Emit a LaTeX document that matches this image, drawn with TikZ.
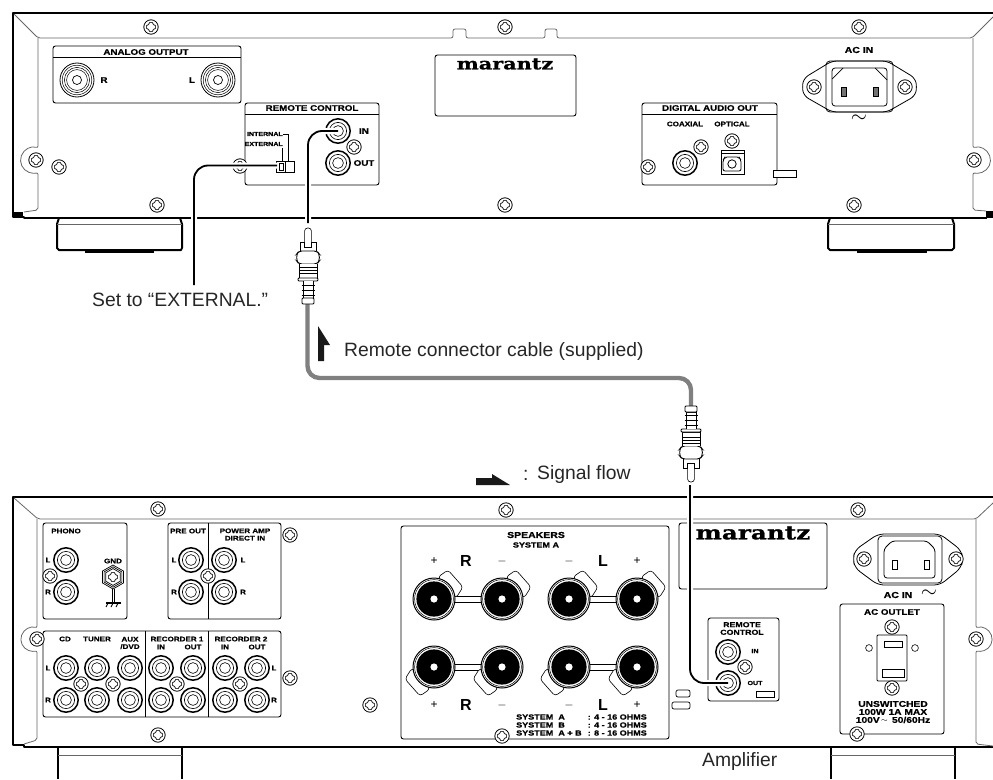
\documentclass[tikz,border=0pt]{standalone}
\usepackage{fontspec}
\setmainfont{Liberation Sans}
\newfontfamily\panelfont[FakeStretch=1.22, BoldFeatures={FakeBold=0.8}]{Liberation Sans}
\newfontfamily\brandfont[FakeStretch=1.3, BoldFeatures={FakeBold=1.2}]{DejaVu Serif}
\usetikzlibrary{positioning, calc}

\begin{document}
\begin{tikzpicture}[x=1pt, y=-1pt, >=stealth, every node/.style={align=center, inner sep=0pt},
    caption/.style={font=\fontsize{19.3}{22}\selectfont, text=black!85},
    titletext/.style={font=\panelfont\fontsize{8}{8.6}\selectfont\bfseries},
    paneltext/.style={font=\panelfont\fontsize{6.6}{7.4}\selectfont\bfseries},
    tinytext/.style={font=\panelfont\fontsize{5.8}{7.6}\selectfont\bfseries},
    systext/.style={font=\panelfont\fontsize{7.4}{8}\selectfont\bfseries},
    bigtext/.style={font=\fontsize{16}{16}\selectfont\bfseries},
    signtext/.style={font=\fontsize{12}{12}\selectfont},
    brandtext/.style={font=\brandfont\bfseries},
    panel/.style={draw, line width=0.9pt, rounded corners=2.5pt},
    caseline/.style={draw, line width=2pt, line join=round},
    innerline/.style={draw=black!60, line width=0.8pt, rounded corners=2pt},
    thinpart/.style={draw, line width=0.6pt, fill=white},
    lead/.style={draw=black, line width=1.8pt, rounded corners=14pt, preaction={draw=white, line width=6pt}},
    greycable/.style={draw=black!50, line width=4.4pt, rounded corners=12pt},
    flowmark/.style={fill=black!90, draw=none},
    screwcross/.pic={
        \draw[line width=0.6pt, rounded corners=1pt] (-2,-4.6) -- (2,-4.6) -- (2,-2) -- (4.6,-2) -- (4.6,2) -- (2,2)
            -- (2,4.6) -- (-2,4.6) -- (-2,2) -- (-4.6,2) -- (-4.6,-2) -- (-2,-2) -- cycle;
    },
    screw/.pic={
        \draw[line width=0.8pt, fill=white] (0,0) circle (7.2);
        \pic {screwcross};
    },
    jack/.pic={
        \draw[line width=1.5pt, fill=white] (0,0) circle (12.2);
        \draw[line width=0.6pt] (0,0) circle (8.6);
        \draw[line width=0.6pt] (0,0) circle (5.4);
    },
    bigjack/.pic={
        \draw[line width=0.8pt, fill=white] (0,0) circle (17);
        \foreach \r in {14.8,12.6,10.4} \draw[line width=0.5pt] (0,0) circle (\r);
        \draw[line width=0.7pt] (0,0) circle (4.5);
    },
    terminal/.pic={
        \draw[thinpart, rounded corners=3pt] (4,-22) -- (14,-29) -- (29,-12) -- (22,-1) -- cycle;
        \draw[line width=1pt, fill=white] (0,0) circle (21);
        \draw[line width=0.5pt] (0,0) circle (19.4);
        \fill[black] (0,0) circle (17.6);
        \fill[white] (0,0) circle (3.6);
    },
    rcaplug/.pic={
        \draw[thinpart, rounded corners=3pt] (-3.4,24) -- (-3.4,0) -- (3.4,0) -- (3.4,24);
        \draw[thinpart] (-8,23) -- (-8,14) -- (-3.4,14) -- (-3.4,19) -- (3.4,19) -- (3.4,14) -- (8,14) -- (8,23);
        \draw[thinpart, line width=0.9pt, rounded corners=3pt] (-9,23) -- (-11.3,26) -- (-11.3,33) -- (-9,36) -- (9,36) -- (11.3,33) -- (11.3,26) -- (9,23) -- cycle;
        \draw[thinpart, line width=0.9pt] (-9,36) -- (-9,50) -- (9,50) -- (9,36);
        \foreach \s in {39,42,45} \draw[line width=0.7pt] (-9,\s) -- (9,\s);
        \draw[thinpart, line width=0.9pt, rounded corners=1pt] (-10,50) rectangle (10,53);
        \draw[thinpart, line width=0.9pt] (-5,53) -- (-5,70) -- (5,70) -- (5,53);
        \foreach \s in {57,62,67} \draw[line width=1pt] (-6.5,\s) -- (6.5,\s);
        \draw[thinpart, line width=0.9pt, rounded corners=1pt] (-6,70) rectangle (6,76);
    }]
    \useasboundingbox (0,0) rectangle (993,779);

    \path[caseline] (993,13) -- (13,13) -- (13,217) -- (24,217) -- (24,218) -- (987,218);
    \fill[black] (13,212) rectangle (23,217);
    \fill[black] (986,211) rectangle (993,218);
    \draw[innerline] (14,14) -- (38,38) -- (453,38) -- (453,29) -- (466,29) -- (466,38) -- (545,38) -- (545,29) -- (557,29) -- (557,38) -- (972,38) -- (993,17);
    \draw[innerline] (38,38) -- (38,148) arc[start angle=-70, end angle=-290, radius=13] -- (38,210) -- (24,212);
    \draw[innerline] (973,38) -- (973,148) arc[start angle=250, end angle=470, radius=13] -- (973,210) -- (986,211);

    \draw[caseline] (59,218) -- (57,224) -- (57,248) -- (59,250) -- (181,250) -- (182,248) -- (182,224) -- (180,218);
    \draw[innerline] (57,224) -- (182,224);
    \draw[line width=1.6pt] (85,252) -- (154,252);
    \draw[caseline] (830,218) -- (828,224) -- (828,248) -- (830,250) -- (952,250) -- (954,248) -- (954,224) -- (952,218);
    \draw[innerline] (828,224) -- (954,224);
    \draw[line width=1.6pt] (857,252) -- (927,252);

    \draw[panel] (53,46) rectangle (241,103);
    \draw[line width=0.9pt] (53,57) -- (241,57);
    \node[titletext] (analogTitle) at (146,52) {ANALOG OUTPUT};
    \pic (analogR) at (77,80) {bigjack};
    \pic (analogL) at (218,80) {bigjack};
    \node[titletext] (analogRText) at (104,80) {R};
    \node[titletext] (analogLText) at (192,80) {L};

    \draw[panel] (435,55) rectangle (576,116);
    \node[brandtext, font=\brandfont\bfseries\fontsize{16}{16}\selectfont] (brandTop) at (505,64) {marantz};

    \draw[panel] (245,103) rectangle (379,185);
    \draw[line width=0.9pt] (245,114) -- (379,114);
    \node[titletext] (remoteTitle) at (312,108) {REMOTE CONTROL};
    \node[tinytext, anchor=east] (internalText) at (283,134) {INTERNAL};
    \node[tinytext, anchor=east] (externalText) at (283,144) {EXTERNAL};
    \draw[line width=0.7pt] (internalText.east) -| (288,161);
    \draw[line width=0.7pt] (282,148) -- (282,161);
    \draw[thinpart] (276,161) rectangle (294,172);
    \draw[line width=0.7pt] (285,161) -- (285,172);
    \draw[line width=1pt] (279,163) rectangle (283,170);
    \pic (remoteIn) at (338,131) {jack};
    \pic (remoteOut) at (338,163) {jack};
    \node[titletext] (remoteInText) at (364,131) {IN};
    \node[titletext] (remoteOutText) at (364,163) {OUT};

    \draw[panel] (642,103) rectangle (777,185);
    \draw[line width=0.9pt] (642,114) -- (777,114);
    \node[titletext] (digitalTitle) at (710,108) {DIGITAL AUDIO OUT};
    \node[paneltext] (coaxialText) at (685,124) {COAXIAL};
    \node[paneltext] (opticalText) at (732,124) {OPTICAL};
    \pic (coaxial) at (685,163) {jack};
    \draw[thinpart, line width=0.9pt] (721,150) rectangle (744,174);
    \draw[line width=0.6pt] (721,153) -- (744,153);
    \draw[line width=0.8pt, rounded corners=2pt] (725,157) -- (739,157) -- (741,160) -- (741,171) -- (723,171) -- (723,160) -- cycle;
    \draw[line width=0.8pt] (732,164) circle (4.2);
    \draw[thinpart] (773,170) rectangle (796,177);

    \node[titletext, font=\panelfont\fontsize{8.6}{9}\selectfont\bfseries] (acInTop) at (859,50) {AC IN};
    \draw[thinpart, line width=0.8pt, rounded corners=5pt] (832,61) -- (887,61) -- (915,78) -- (917,87) -- (915,96) -- (887,112) -- (832,112) -- (804,96) -- (802,87) -- (804,78) -- cycle;
    \draw[line width=0.8pt, rounded corners=4pt] (826,61) rectangle (893,112);
    \draw[line width=0.8pt, rounded corners=3pt] (832,68) rectangle (887,106);
    \draw[line width=0.7pt] (832,79) -- (843,68) (875,68) -- (887,80);
    \draw[thinpart, fill=black!55] (841,87) rectangle (846,96);
    \draw[thinpart, fill=black!55] (873,87) rectangle (878,96);
    \node[font=\fontsize{21}{21}\selectfont] (acSignTop) at (859,119) {$\sim$};

    \foreach \x/\y [count=\i] in {151/27,59/167,157/205,36/160,505/27,505/205,859/27,854/205,974/160,354/147,240/166,701/147,648/167,732/141,814/87,905/87}
        \pic (topScrew\i) at (\x,\y) {screw};

    \path[caseline] (993,497) -- (13,497) -- (13,745) -- (24,745) -- (24,747) -- (993,747);
    \draw[innerline] (14,498) -- (38,519) -- (976,519) -- (993,503);
    \draw[innerline] (37,519) -- (37,628) arc[start angle=-70, end angle=-290, radius=12] -- (37,740) -- (24,744);
    \draw[innerline] (976,519) -- (976,628) arc[start angle=250, end angle=470, radius=12] -- (976,744) -- (993,746);
    \draw[line width=1.6pt] (58,747) -- (58,779) (182,747) -- (182,779);
    \draw[innerline] (58,755) -- (182,755);
    \draw[line width=1.6pt] (831,747) -- (831,779) (955,747) -- (955,779);
    \draw[innerline] (831,755) -- (955,755);

    \draw[panel] (43,523) rectangle (127,619);
    \node[paneltext] (phonoTitle) at (66,531) {PHONO};
    \pic (phonoL) at (66,560) {jack};
    \pic (phonoR) at (66,592) {jack};
    \node[paneltext] (phonoLText) at (48,560) {L};
    \node[paneltext] (phonoRText) at (48,592) {R};
    \node[paneltext] (gndText) at (113,561) {GND};
    \foreach \r in {12,10.2,8.4}
        \draw[line width=0.7pt, fill=white] (113,577-\r) -- (113+0.87*\r,577-0.5*\r) -- (113+0.87*\r,577+0.5*\r) -- (113,577+\r) -- (113-0.87*\r,577+0.5*\r) -- (113-0.87*\r,577-0.5*\r) -- cycle;
    \pic (gndCross) at (113,577) {screwcross};
    \draw[line width=0.7pt] (112,589) -- (112,603) (114.4,589) -- (114.4,603);
    \draw[line width=1.2pt] (106,603) -- (121,603);
    \draw[line width=0.9pt] (108,603) -- (106,607) (113,603) -- (111,607) (118,603) -- (116,607);

    \draw[panel] (168,523) rectangle (281,619);
    \draw[line width=0.9pt] (208,523) -- (208,619);
    \node[paneltext] (preOutTitle) at (188,531) {PRE OUT};
    \node[paneltext] (powerTitle) at (245,534.5) {POWER AMP\\DIRECT IN};
    \foreach \x/\y [count=\i] in {191/560,191/592,224/560,224/592}
        \pic (powerJack\i) at (\x,\y) {jack};
    \node[paneltext] (preLText) at (174,560) {L};
    \node[paneltext] (preRText) at (174,592) {R};
    \node[paneltext] (powerLText) at (243,560) {L};
    \node[paneltext] (powerRText) at (243,592) {R};

    \draw[panel] (43,631) rectangle (281,717);
    \draw[line width=0.9pt] (145,631) -- (145,717) (208,631) -- (208,717);
    \node[paneltext] (cdText) at (65,639) {CD};
    \node[paneltext] (tunerText) at (97,639) {TUNER};
    \node[paneltext] (auxText) at (130,643) {AUX\\/DVD};
    \node[paneltext] (rec1Text) at (177,639) {RECORDER 1};
    \node[paneltext] (rec1In) at (161,647) {IN};
    \node[paneltext] (rec1Out) at (193,647) {OUT};
    \node[paneltext] (rec2Text) at (241,639) {RECORDER 2};
    \node[paneltext] (rec2In) at (225,647) {IN};
    \node[paneltext] (rec2Out) at (257,647) {OUT};
    \foreach \x [count=\i] in {66,97,130,161,193,225,257} {
        \pic (inputL\i) at (\x,668) {jack};
        \pic (inputR\i) at (\x,700) {jack};
    }
    \node[paneltext] (inLText) at (48,668) {L};
    \node[paneltext] (inRText) at (48,700) {R};
    \node[paneltext] (outLText) at (274,668) {L};
    \node[paneltext] (outRText) at (274,700) {R};

    \draw[panel] (401,526) rectangle (669,739);
    \node[titletext, font=\panelfont\fontsize{8.6}{9}\selectfont\bfseries] (speakersTitle) at (536,535) {SPEAKERS};
    \node[systext] (systemAText) at (536,545) {SYSTEM A};
    \foreach \xa/\xb in {434/502,569/637}
        \foreach \y in {599,667} {
            \draw[line width=0.7pt] (\xa,\y-3) -- (\xb,\y-3) (\xa,\y+3) -- (\xb,\y+3);
        }
    \foreach \x [count=\i] in {434,502,569,637} {
        \pic (termTop\i) at (\x,599) {terminal};
        \pic[rotate=180] (termBot\i) at (\x,667) {terminal};
    }
    \foreach \x/\t [count=\i] in {434/{+},502/{$-$},569/{$-$},637/{+}} {
        \node[signtext] (signTop\i) at (\x,561) {\t};
        \node[signtext] (signBot\i) at (\x,705) {\t};
    }
    \node[bigtext] (rTop) at (466,561) {R};
    \node[bigtext] (lTop) at (603,561) {L};
    \node[bigtext] (rBot) at (466,705) {R};
    \node[bigtext] (lBot) at (603,705) {L};
    \node[systext, anchor=west] (sysA) at (516,717) {SYSTEM \ A};
    \node[systext, anchor=west] (sysB) at (516,725) {SYSTEM \ B};
    \node[systext, anchor=west] (sysAB) at (516,733) {SYSTEM \ A + B};
    \node[systext, anchor=east] (ohmA) at (647,717) {: 4 - 16 OHMS};
    \node[systext, anchor=east] (ohmB) at (647,725) {: 4 - 16 OHMS};
    \node[systext, anchor=east] (ohmAB) at (647,733) {: 8 - 16 OHMS};
    \draw[line width=0.7pt, rounded corners=2pt] (690,690) -- (676,690) -- (676,697) -- (690,697) -- cycle;
    \draw[line width=0.7pt, rounded corners=2pt] (690,702) -- (672,702) -- (672,709) -- (690,709) -- cycle;

    \draw[panel] (679,523) rectangle (827,589);
    \node[brandtext, font=\brandfont\bfseries\fontsize{19}{19}\selectfont] (brandBot) at (753,533) {marantz};

    \draw[panel] (708,618) rectangle (779,701);
    \node[titletext, font=\panelfont\fontsize{7.2}{7.6}\selectfont\bfseries] (remote2Title) at (742,628.5) {REMOTE\\CONTROL};
    \pic (amp2In) at (728,652) {jack};
    \pic (ampOut) at (728,683) {jack};
    \node[tinytext] (amp2InText) at (755,651) {IN};
    \node[tinytext] (ampOutText) at (755,683) {OUT};
    \draw[thinpart] (756,691) rectangle (774,697);

    \draw[thinpart, line width=0.8pt, rounded corners=6pt] (878,534) -- (940,534) -- (961,550) -- (963,559) -- (961,568) -- (940,585) -- (878,585) -- (855,568) -- (853,559) -- (855,550) -- cycle;
    \draw[line width=0.8pt, rounded corners=4pt] (878,536) rectangle (942,583);
    \draw[line width=0.8pt, rounded corners=3pt] (892,541) -- (927,541) -- (935,549) -- (935,578) -- (884,578) -- (884,549) -- cycle;
    \draw[thinpart, line width=0.9pt] (892,560) rectangle (897,569);
    \draw[thinpart, line width=0.9pt] (924,560) rectangle (929,569);
    \node[titletext, font=\panelfont\fontsize{8.6}{9}\selectfont\bfseries] (acInBot) at (898,595) {AC IN};
    \node[font=\fontsize{21}{21}\selectfont] (acSignBot) at (929,594) {$\sim$};

    \draw[panel] (840,604) rectangle (944,734);
    \node[titletext, font=\panelfont\fontsize{8}{9}\selectfont\bfseries] (acOutletTitle) at (892,612) {AC OUTLET};
    \draw[thinpart, line width=0.9pt, rounded corners=1pt] (877,635) rectangle (907,681);
    \draw[thinpart, line width=1pt] (884,641) rectangle (902,647);
    \draw[thinpart, line width=1pt] (882,669) rectangle (904,677);
    \draw[line width=0.6pt] (869,648) circle (3.4) (915,648) circle (3.4);
    \node[titletext, font=\panelfont\fontsize{8.4}{8}\selectfont\bfseries] (unswitchedText) at (893,712) {UNSWITCHED\\100W 1A MAX\\100V$\,\sim\,$ 50/60Hz};

    \foreach \x/\y [count=\i] in {158/509,50/576,208/576,290/535,158/735,81/684,113/684,177/684,240/684,290/678,370/705,506/510,502/736,745/667,857/734,858/510,976/639,37/639,864/559,956/559,892/627,892/688}
        \pic (ampScrew\i) at (\x,\y) {screw};

    \coordinate (remoteInPin) at (338,131);
    \coordinate (switchPoint) at (277,165.5);
    \coordinate (captionTop) at (194,285);
    \coordinate (plugTopPin) at (308,223);
    \coordinate (plugTopTail) at (307.5,304);
    \coordinate (plugBotTail) at (691,406);
    \coordinate (cableBend) at (500,378);
    \coordinate (plugBotPin) at (690,485);
    \coordinate (ampOutPin) at (728,683);

    \draw[lead] (switchPoint) -| (captionTop);
    \draw[lead] (remoteInPin) -| (plugTopPin);
    \draw[lead] (plugBotPin) |- (ampOutPin);
    \draw[greycable] (plugTopTail) |- (cableBend) -| (plugBotTail);
    \pic at (308,228) {rcaplug};
    \pic[yscale=-1] at (691,482) {rcaplug};

    \path[flowmark] (318,326) -- (330,345) -- (324,345) -- (324,361) -- (318,361) -- cycle;
    \path[flowmark] (476,478) -- (492,478) -- (492,474) -- (510,485) -- (476,485) -- cycle;

    \node[caption, anchor=west] (setText) at (92,300) {Set to “EXTERNAL.”};
    \node[caption, anchor=west] (cableText) at (344,352) {Remote connector cable (supplied)};
    \node[caption, anchor=west] (flowColon) at (523,475) {:};
    \node[caption, anchor=west] (flowText) at (537,475) {Signal flow};
    \node[caption, anchor=west] (ampText) at (702,762) {Amplifier};
\end{tikzpicture}
\end{document}
